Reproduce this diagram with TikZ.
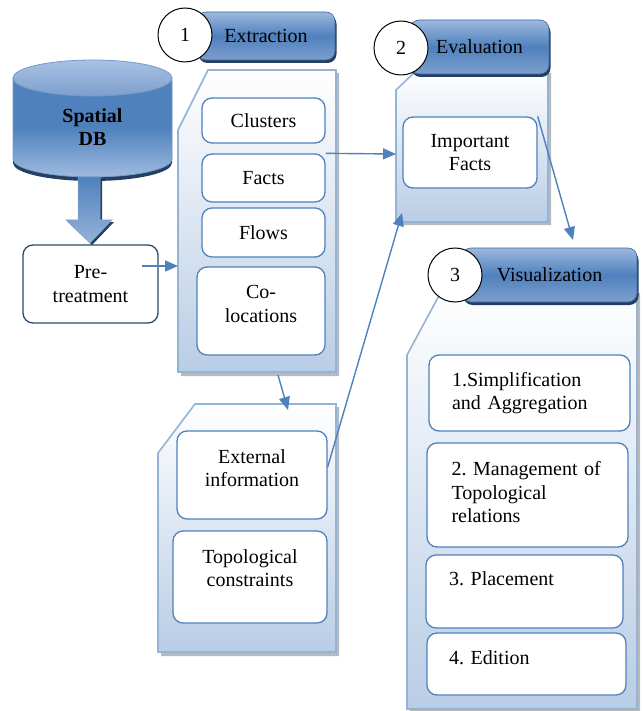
\documentclass[tikz,border=0pt]{standalone}
\usepackage{fontspec}
\setmainfont{Liberation Serif}
\usetikzlibrary{arrows.meta,shadows}
\definecolor{accent}{HTML}{4F81BD}
\definecolor{lightacc}{HTML}{95B3D7}
\definecolor{panelbot}{HTML}{B9CDE5}
\definecolor{navy}{HTML}{243F60}
\definecolor{darkb}{HTML}{3A66A0}
\definecolor{hdtop}{HTML}{9DB8DD}
\definecolor{hdbot}{HTML}{7D9FCD}
\definecolor{cyltop}{HTML}{A9C2E4}
\definecolor{cylbot}{HTML}{9FBBE0}
\definecolor{prebord}{HTML}{2C4A6E}
\newcommand{\myfs}{\fontsize{20}{23.5}\selectfont\frenchspacing}
\begin{document}
\begin{tikzpicture}[x=1pt,y=-1pt,
  panel/.style={draw=lightacc, line width=1.6pt, top color=white, bottom color=panelbot},
  panelshadow/.style={fill=gray!55, draw=none},
  header/.style={rectangle, rounded corners=9pt, draw=darkb, line width=0.6pt,
    top color=hdtop, bottom color=hdbot, middle color=accent, font=\myfs,
    drop shadow={shadow xshift=1.5pt, shadow yshift=-3pt, fill=navy, opacity=1}},
  numcircle/.style={circle, draw=black, line width=1pt, fill=white, minimum size=54pt, inner sep=0pt, font=\myfs},
  box/.style={rectangle, draw=accent, line width=1.3pt, fill=white, rounded corners=10pt, font=\myfs, align=center, inner sep=2pt},
  lbox/.style={box, align=left, inner xsep=23pt},
  conn/.style={draw=accent, line width=1.4pt, -{Triangle[length=13pt,width=11pt]}}
]
\useasboundingbox (0,0) rectangle (642,711);

% ---------- panels ----------
\path[panelshadow] (211,73) -- (339,73) -- (339,376) -- (181,376) -- (181,133) -- cycle;
\path[panel] (208,70) -- (336,70) -- (336,372) -- (178,372) -- (178,130) -- cycle;

\path[panelshadow] (420,73) -- (551,73) -- (551,225) -- (399,225) -- (399,93) -- cycle;
\path[panel] (417,70) -- (548,70) -- (548,222) -- (396,222) -- (396,90) -- cycle;

\path[panelshadow] (198,407) -- (339,407) -- (339,656) -- (161,656) -- (161,456) -- cycle;
\path[panel] (195,404) -- (336,404) -- (336,652) -- (158,652) -- (158,453) -- cycle;

\path[panelshadow] (445,293) -- (640,293) -- (640,714) -- (410,714) -- (410,358) -- cycle;
\path[panel] (442,290) -- (637,290) -- (637,709) -- (407,709) -- (407,355) -- cycle;

% ---------- spatial DB cylinder ----------
\path[fill=navy] (13,82) -- (13,163) arc[start angle=180, end angle=360, x radius=79.5pt, y radius=18pt] -- (172,82) -- cycle;
\path[draw=accent!80, line width=0.8pt, top color=accent, bottom color=cylbot, middle color=accent]
  (13,78) -- (13,159) arc[start angle=180, end angle=360, x radius=79.5pt, y radius=18pt] -- (172,78) -- cycle;
\path[draw=accent!80, line width=0.8pt, top color=cyltop, bottom color=hdbot] (92.5,78) ellipse[x radius=79.5pt, y radius=18pt];
\node[font=\bfseries\myfs, align=center, inner sep=0pt] (db) at (92.5,127) {Spatial\\DB};

% big arrow
\path[fill=navy] (80,179) -- (102,179) -- (102,222) -- (114,222) -- (92,245) -- (68,222) -- (80,222) -- cycle;
\path[top color=accent, bottom color=lightacc, draw=accent!70, line width=0.5pt]
  (78,177) -- (100,177) -- (100,220) -- (112,220) -- (90,243) -- (66,220) -- (78,220) -- cycle;

% ---------- boxes ----------
\node[box, draw=prebord, minimum width=135pt, minimum height=78pt] (pre) at (90.5,284) {Pre-\\treatment};

\node[box, minimum width=123pt, minimum height=45pt] (clusters) at (263.5,120.5) {Clusters};
\node[box, minimum width=123pt, minimum height=48pt] (facts) at (263.5,178) {Facts};
\node[box, minimum width=123pt, minimum height=49pt] (flows) at (263.5,232.5) {Flows};
\node[box, minimum width=128pt, minimum height=88pt, text depth=14pt] (coloc) at (261,311) {Co-\\locations};

\node[box, minimum width=134pt, minimum height=71pt] (imp) at (470,152.5) {Important\\Facts};

\node[box, minimum width=150pt, minimum height=88pt, text depth=14pt] (extinfo) at (252,475) {External\\information};
\node[box, minimum width=154pt, minimum height=92pt, text depth=18pt] (topo) at (250,577) {Topological\\constraints};

\node[lbox, minimum width=201pt, minimum height=76pt, text width=155pt] (simp) at (529.5,393) {1.Simplification\\and Aggregation};
\node[lbox, minimum width=201pt, minimum height=104pt, text width=152pt, inner xsep=24pt, text depth=53pt] (mgmt) at (527.5,495) {2. Management of\\Topological\\relations};
\node[lbox, minimum width=197pt, minimum height=73pt, text width=151pt, text depth=25pt] (place) at (524.5,591.5) {3. Placement};
\node[lbox, minimum width=199pt, minimum height=62pt, text width=155pt, inner xsep=22pt, text depth=13.6pt] (edit) at (526.5,664) {4. Edition};

% ---------- headers ----------
\node[header, minimum width=138pt, minimum height=48pt] (hExtr) at (266,36) {Extraction};
\node[header, minimum width=139pt, minimum height=54pt] (hEval) at (479.5,47) {Evaluation};
\node[header, minimum width=175pt, minimum height=54pt] (hVis) at (549.5,275) {Visualization};

\node[numcircle] (c1) at (185,35) {1};
\node[numcircle] (c2) at (401,48) {2};
\node[numcircle] (c3) at (455,275) {3};

% ---------- connectors ----------
\coordinate (preOut) at (142,266);
\coordinate (extrIn) at (178,266);
\coordinate (evalIn) at (396,154);
\coordinate (visIn) at (573,240);
\coordinate (extrOut) at (278,375);
\coordinate (extIn) at (288,410);
\coordinate (evalIn2) at (402,213);

\draw[conn] (preOut) -- (extrIn);
\draw[conn] (facts.north east) -- (evalIn);
\draw[conn] (imp.north east) -- (visIn);
\draw[conn] (extrOut) -- (extIn);
\draw[conn] ([yshift=8pt]extinfo.east) -- (evalIn2);
\end{tikzpicture}
\end{document}
